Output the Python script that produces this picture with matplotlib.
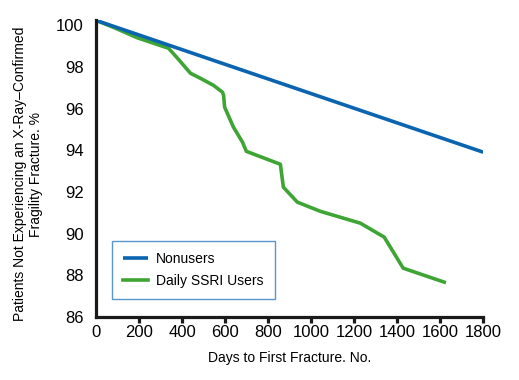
import matplotlib
matplotlib.use("Agg")
import matplotlib.pyplot as plt

# data (days, % not experiencing fracture)
nonuser_days = [0, 1800]
nonuser_pct = [100.24, 93.91]

ssri_days = [0, 91, 193, 337, 379, 439, 485, 546, 588, 593, 598, 639, 681, 699,
             857, 871, 936, 1043, 1229, 1340, 1428, 1619]
ssri_pct = [100.24, 99.86, 99.40, 98.90, 98.42, 97.70, 97.46, 97.12, 96.79, 96.64,
            96.07, 95.11, 94.39, 93.95, 93.33, 92.23, 91.51, 91.07, 90.50,
            89.83, 88.34, 87.67]

x_ticks = [0, 200, 400, 600, 800, 1000, 1200, 1400, 1600, 1800]
y_ticks = [86, 88, 90, 92, 94, 96, 98, 100]

blue = "#0a64b0"
green = "#3ea535"

plt.rcParams["font.family"] = ["Liberation Sans", "DejaVu Sans"]

fig = plt.figure(figsize=(5.19, 3.80), dpi=100)
ax = fig.add_axes([0.185, 0.166, 0.746, 0.781])

ax.plot(ssri_days, ssri_pct, color=green, lw=2.6, label="Daily SSRI Users",
        solid_joinstyle="round")
ax.plot(nonuser_days, nonuser_pct, color=blue, lw=2.6, label="Nonusers",
        solid_capstyle="butt")

ax.set_xlim(0, 1800)
ax.set_ylim(86, 100.25)
ax.set_xticks(x_ticks)
ax.set_yticks(y_ticks)

for s in ["top", "right"]:
    ax.spines[s].set_visible(False)
for s in ["left", "bottom"]:
    ax.spines[s].set_linewidth(2.3)
    ax.spines[s].set_color("#1a1a1a")

ax.tick_params(axis="x", direction="out", length=4, width=2.3, color="#1a1a1a",
               labelsize=12, pad=2)
ax.tick_params(axis="y", length=0, labelsize=12, pad=9)
ax.xaxis.get_major_ticks()[0].tick1line.set_visible(False)

ax.set_xlabel("Days to First Fracture. No.", fontsize=10, labelpad=8)
fig.text(0.054, 0.542,
         "Patients Not Experiencing an X-Ray\u2013Confirmed\nFragility Fracture. %",
         rotation=90, ha="center", va="center", multialignment="center",
         fontsize=10, linespacing=1.1)

handles, labels = ax.get_legend_handles_labels()
leg = ax.legend(handles[::-1], labels[::-1], loc="lower left",
                bbox_to_anchor=(0.041, 0.061), borderaxespad=0,
                fontsize=10, frameon=True, fancybox=False, handlelength=1.8,
                handletextpad=0.6, labelspacing=0.55, borderpad=0.8)
leg.get_frame().set_edgecolor("#2f7cc4")
leg.get_frame().set_linewidth(1.0)

fig.savefig("out.png", dpi=100)
